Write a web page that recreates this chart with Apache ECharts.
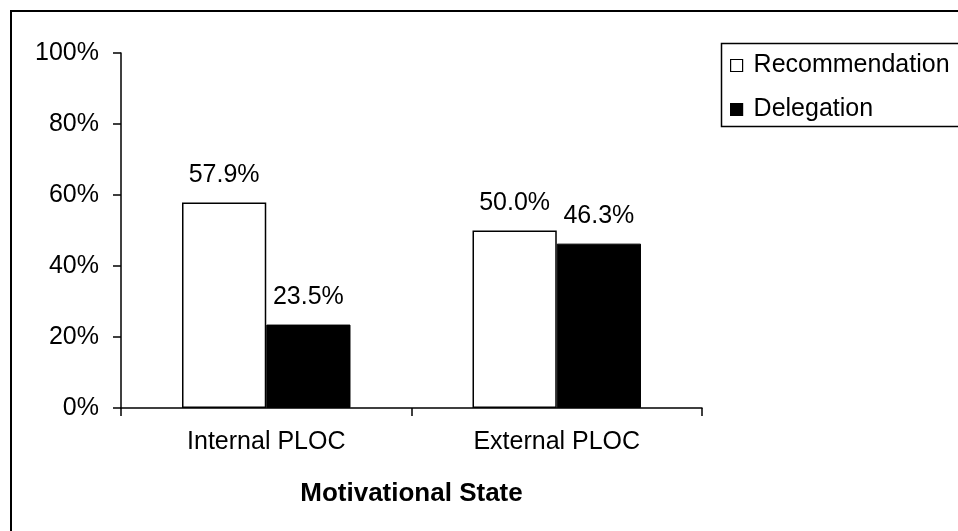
<!DOCTYPE html>
<html>
<head>
<meta charset="utf-8">
<script src="https://cdn.jsdelivr.net/npm/echarts@6/dist/echarts.min.js"></script>
<style>
  html, body { margin: 0; padding: 0; background: #fff; }
  #chart { width: 958px; height: 531px; }
</style>
</head>
<body>
<div id="chart"></div>
<script>
// Share of participants by motivational state
const categories = ['Internal PLOC', 'External PLOC'];
const recommendation = [57.9, 50.0];
const delegation = [23.5, 46.3];
const seriesNames = ['Recommendation', 'Delegation'];
const yTicks = [0, 20, 40, 60, 80, 100];

const FONT = '"Liberation Sans", Arial, sans-serif';
const chart = echarts.init(document.getElementById('chart'), null, { renderer: 'canvas' });

const pct = v => v.toFixed(1) + '%';

chart.setOption({
  animation: false,
  backgroundColor: '#fff',
  textStyle: { fontFamily: FONT, color: '#000' },
  graphic: [
    // outer chart frame (runs off the right and bottom edges)
    { type: 'rect', silent: true, z: 0,
      shape: { x: 11, y: 11, width: 1000, height: 600 },
      style: { fill: 'none', stroke: '#000', lineWidth: 2 } },
    // legend frame
    { type: 'rect', silent: true, z: 0,
      shape: { x: 721.5, y: 43.5, width: 300, height: 83 },
      style: { fill: '#fff', stroke: '#000', lineWidth: 1.5 } }
  ],
  legend: {
    orient: 'vertical',
    left: 725,
    top: 48,
    itemWidth: 12,
    itemHeight: 12,
    itemGap: 19,
    icon: 'rect',
    textStyle: { fontFamily: FONT, fontSize: 25, color: '#000', padding: [0, 0, 0, 6] },
    data: [
      { name: seriesNames[0], itemStyle: { color: '#fff', borderColor: '#000', borderWidth: 1.2 } },
      { name: seriesNames[1], itemStyle: { color: '#000', borderColor: '#000', borderWidth: 1.2 } }
    ]
  },
  grid: { left: 121, right: 256, top: 53, bottom: 123, containLabel: false },
  xAxis: {
    type: 'category',
    data: categories,
    boundaryGap: true,
    name: 'Motivational State',
    nameLocation: 'middle',
    nameGap: 73,
    nameTextStyle: { fontFamily: FONT, fontSize: 26, fontWeight: 'bold', color: '#000' },
    axisLine: { show: true, lineStyle: { color: '#000', width: 1.5 } },
    axisTick: { show: true, length: 8, inside: false, alignWithLabel: false, lineStyle: { color: '#000', width: 1.5 } },
    axisLabel: { fontFamily: FONT, fontSize: 25, color: '#000', margin: 22 },
    splitLine: { show: false }
  },
  yAxis: {
    type: 'value',
    min: yTicks[0],
    max: yTicks[yTicks.length - 1],
    interval: yTicks[1] - yTicks[0],
    axisLine: { show: true, lineStyle: { color: '#000', width: 1.5 } },
    axisTick: { show: true, length: 8, inside: false, lineStyle: { color: '#000', width: 1.5 } },
    axisLabel: { fontFamily: FONT, fontSize: 25, color: '#000', margin: 22, formatter: '{value}%' },
    splitLine: { show: false }
  },
  series: [
    {
      name: seriesNames[0],
      type: 'bar',
      data: recommendation,
      barGap: '0%',
      barCategoryGap: '42%',
      itemStyle: { color: '#fff', borderColor: '#000', borderWidth: 1.5 },
      label: { show: true, position: 'top', distance: 15, fontFamily: FONT, fontSize: 25, color: '#000',
               formatter: p => pct(p.value) }
    },
    {
      name: seriesNames[1],
      type: 'bar',
      data: delegation,
      barGap: '0%',
      barCategoryGap: '42%',
      itemStyle: { color: '#000', borderColor: '#000', borderWidth: 1 },
      label: { show: true, position: 'top', distance: 15, fontFamily: FONT, fontSize: 25, color: '#000',
               formatter: p => pct(p.value) }
    }
  ]
});
</script>
</body>
</html>
